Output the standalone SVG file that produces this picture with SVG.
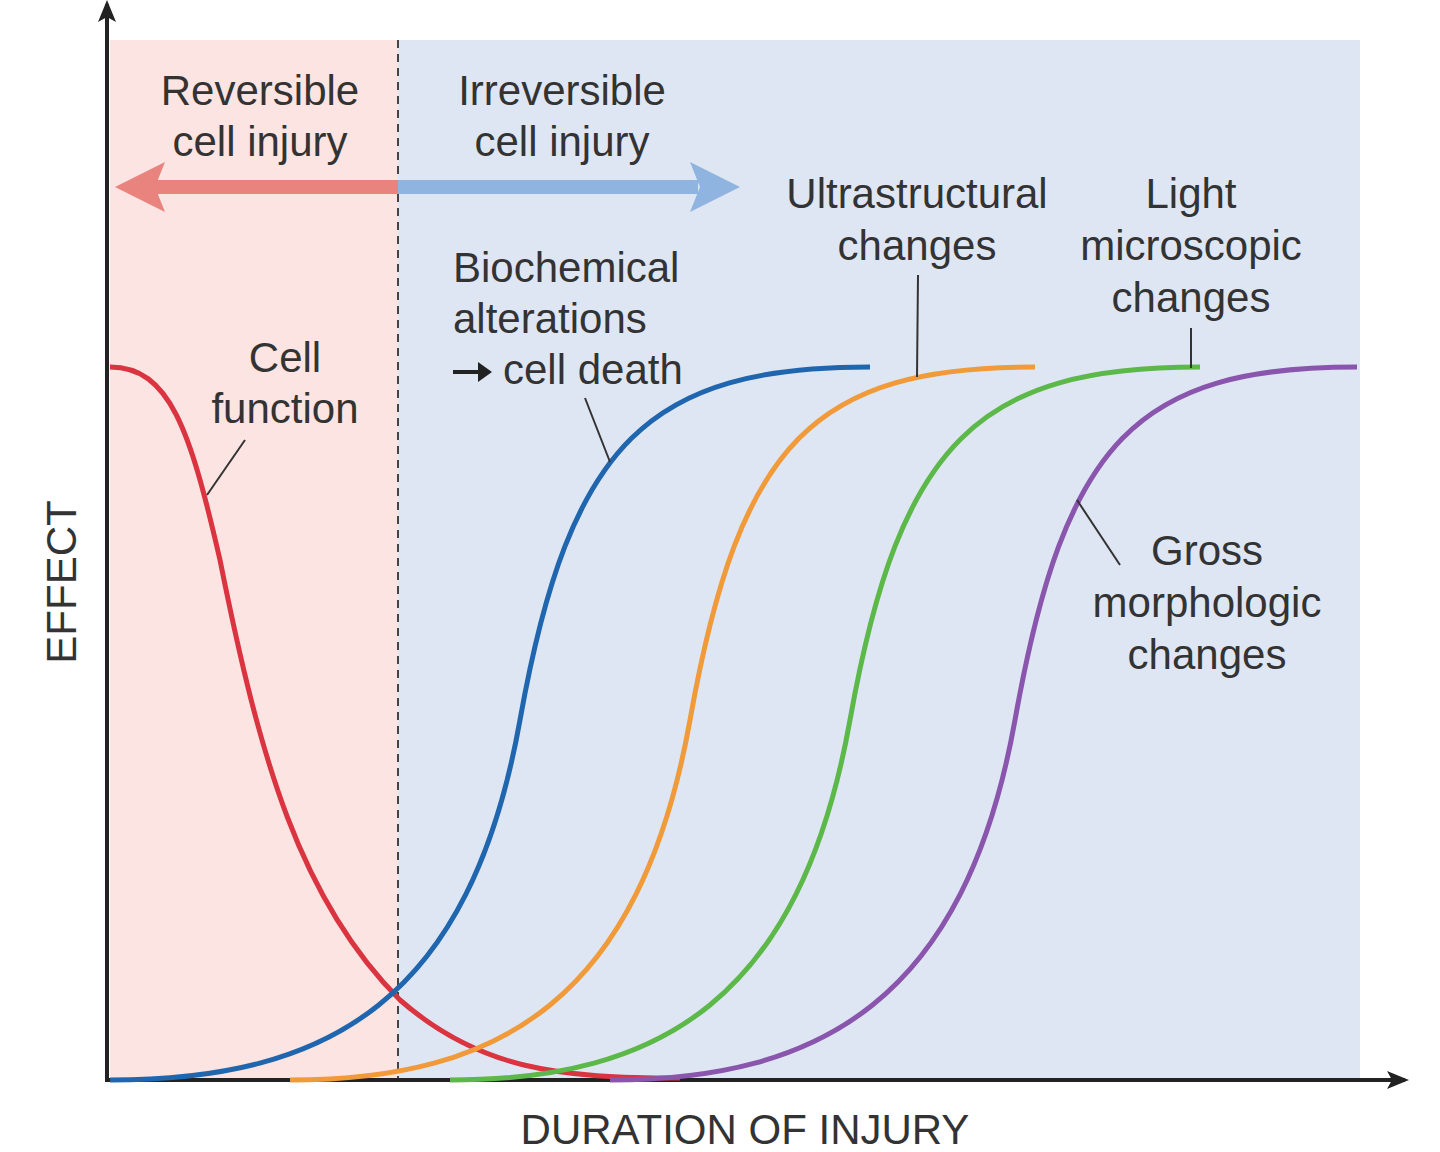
<svg xmlns="http://www.w3.org/2000/svg" width="1440" height="1152" viewBox="0 0 1440 1152">
<style>
text{font-family:"Liberation Sans",Arial,sans-serif;font-size:42px;fill:#333;text-anchor:middle}
.c{fill:none;stroke-width:5}
.l{stroke:#333;stroke-width:2;fill:none}
</style>
<defs>
<marker id="ax" markerWidth="22" markerHeight="22" refX="18" refY="11" orient="auto" markerUnits="userSpaceOnUse" viewBox="0 0 22 22"><path d="M0,2L22,11L0,20L5,11z" fill="#222"/></marker>
</defs>
<rect width="1440" height="1152" fill="#fff"/>
<g id="regions">
<rect x="110" y="40" width="288" height="1040" fill="#fbe4e2"/>
<rect x="398" y="40" width="962" height="1040" fill="#dfe6f3"/>
<line x1="398" y1="40" x2="398" y2="1080" stroke="#444" stroke-width="2" stroke-dasharray="8,6"/>
</g>
<g id="axes">
<line x1="107" y1="1082" x2="107" y2="4" stroke="#222" stroke-width="4" marker-end="url(#ax)"/>
<line x1="105" y1="1080" x2="1405" y2="1080" stroke="#222" stroke-width="4" marker-end="url(#ax)"/>
<text x="745" y="1144">DURATION OF INJURY</text>
<text transform="translate(76,582) rotate(-90)">EFFECT</text>
</g>
<g id="arrows">
<rect x="150" y="180" width="248" height="14" fill="#e8837e"/>
<path d="M115,187L165,162L155,187L165,212z" fill="#e8837e"/>
<rect x="398" y="180" width="300" height="14" fill="#8fb4e0"/>
<path d="M740,187L690,162L700,187L690,212z" fill="#8fb4e0"/>
<text x="260" y="105">Reversible</text><text x="260" y="156">cell injury</text>
<text x="562" y="105">Irreversible</text><text x="562" y="156">cell injury</text>
</g>
<g id="connectors">
<path class="c" stroke="#d9343f" d="M110,367 C170,367 190,430 220,560 C260,760 300,900 400,1000 C480,1070 560,1078 680,1078"/>
<path class="c" stroke="#1f66ae" d="M110,1080 C330,1080 470,1000 520,720 C570,440 650,367 870,367"/>
<path class="c" stroke="#f09a3a" d="M290,1080 C500,1080 640,1000 690,720 C740,440 815,367 1035,367"/>
<path class="c" stroke="#5cb848" d="M450,1080 C660,1080 800,1000 850,720 C900,440 980,367 1200,367"/>
<path class="c" stroke="#8a55ad" d="M610,1080 C820,1080 965,1000 1015,720 C1065,440 1137,367 1357,367"/>
<line class="l" x1="245" y1="440" x2="207" y2="495"/>
<line class="l" x1="585" y1="398" x2="610" y2="462"/>
<line class="l" x1="918" y1="275" x2="917" y2="377"/>
<line class="l" x1="1191" y1="328" x2="1191" y2="368"/>
<line class="l" x1="1120" y1="565" x2="1077" y2="500"/>
</g>
<g id="labels">
<text x="285" y="372">Cell</text><text x="285" y="423">function</text>
<text x="453" y="282" style="text-anchor:start">Biochemical</text>
<text x="453" y="333" style="text-anchor:start">alterations</text>
<text x="503" y="384" style="text-anchor:start">cell death</text>
<path d="M453,370H478V362L492,372L478,382V374H453z" fill="#222"/>
<text x="917" y="208">Ultrastructural</text><text x="917" y="260">changes</text>
<text x="1191" y="208">Light</text><text x="1191" y="260">microscopic</text><text x="1191" y="312">changes</text>
<text x="1207" y="565">Gross</text><text x="1207" y="617">morphologic</text><text x="1207" y="669">changes</text>
</g>
</svg>
